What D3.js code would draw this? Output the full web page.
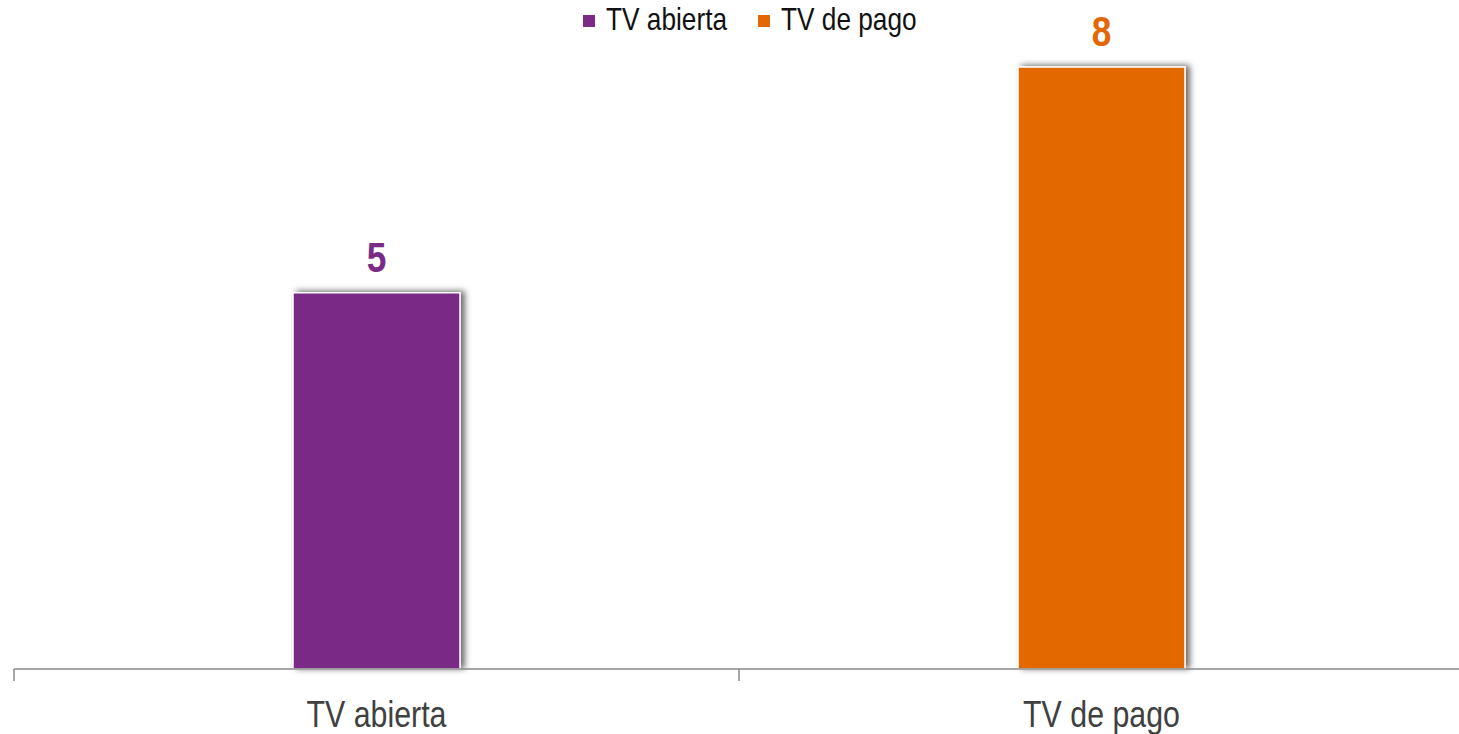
<!DOCTYPE html>
<html>
<head>
<meta charset="utf-8">
<title>TV abierta vs TV de pago</title>
<script src="https://d3js.org/d3.v7.min.js"></script>
<style>
body { margin: 0; background: white; }
text { font-family: "Liberation Sans Narrow", "Arial Narrow", "Liberation Sans", Arial, sans-serif; }
</style>
</head>
<body>
<svg id="chart" width="1459" height="734"></svg>
<script>
// data
var categories = ["TV abierta", "TV de pago"];
var values = [5, 8];
var colors = ["#7A2B86", "#E46706"];

var svg = d3.select("#chart");
var baseY = 669;
var narrow = 0.82; // fake a narrow face, no Arial Narrow here

var x = d3.scaleBand().domain(categories).range([14, 1464]);
var y = d3.scaleLinear().domain([0, 8]).range([baseY, 67]);
var barW = 167;

// shadow filter
var defs = svg.append("defs");
var f = defs.append("filter").attr("id", "shadow")
    .attr("x", "-20%").attr("y", "-20%").attr("width", "140%").attr("height", "140%");
f.append("feDropShadow").attr("dx", 4).attr("dy", -1)
    .attr("stdDeviation", 3).attr("flood-color", "#000").attr("flood-opacity", 0.6);

// bars
svg.append("g").selectAll("rect")
  .data(values)
  .enter()
  .append("rect")
    .attr("x", function(d, i) { return x(categories[i]) + x.bandwidth() / 2 - barW / 2; })
    .attr("y", function(d) { return y(d); })
    .attr("width", barW)
    .attr("height", function(d) { return baseY - y(d); })
    .attr("fill", function(d, i) { return colors[i]; })
    .attr("stroke", "white")
    .attr("stroke-width", 1.5)
    .attr("filter", "url(#shadow)");

// value labels
svg.append("g").selectAll("text")
  .data(values)
  .enter()
  .append("text")
    .attr("transform", function(d, i) {
      return "translate(" + (x(categories[i]) + x.bandwidth() / 2) + "," + (y(d) - 21) + ") scale(" + narrow + ",1)";
    })
    .attr("text-anchor", "middle")
    .attr("font-size", 43)
    .attr("font-weight", "bold")
    .attr("fill", function(d, i) { return colors[i]; })
    .text(function(d) { return d; });

// x axis
var xAxis = svg.append("g")
    .attr("transform", "translate(0," + baseY + ")")
    .call(d3.axisBottom(x).tickSize(0).tickPadding(32));
xAxis.select(".domain").attr("stroke", "#898989").attr("stroke-width", 1.5)
    .attr("d", "M14,0H1464");
xAxis.selectAll(".tick text")
    .attr("font-size", 37)
    .attr("fill", "#404040")
    .attr("transform", "scale(" + narrow + ",1)")
    .style("font-family", "'Liberation Sans Narrow', 'Arial Narrow', 'Liberation Sans', Arial, sans-serif");

// tick marks between categories
var bounds = [14, 739, 1464];
svg.append("g").selectAll("line")
  .data(bounds)
  .enter()
  .append("line")
    .attr("x1", function(d) { return d; })
    .attr("x2", function(d) { return d; })
    .attr("y1", baseY)
    .attr("y2", baseY + 12)
    .attr("stroke", "#898989")
    .attr("stroke-width", 1.5);

// legend
var legend = svg.append("g");
var legX = [583, 758];
categories.forEach(function(c, i) {
  legend.append("rect")
    .attr("x", legX[i]).attr("y", 15)
    .attr("width", 12).attr("height", 12)
    .attr("fill", colors[i]);
  legend.append("text")
    .attr("transform", "translate(" + (legX[i] + 23) + ",30) scale(" + narrow + ",1)")
    .attr("font-size", 32)
    .attr("fill", "#111")
    .text(c);
});
</script>
</body>
</html>
